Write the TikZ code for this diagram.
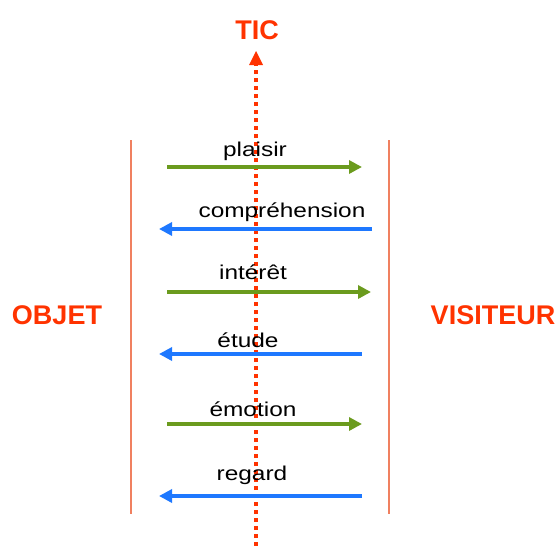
\documentclass[tikz,border=0pt]{standalone}
\usepackage{fontspec}
\setmainfont{Liberation Sans}
\usetikzlibrary{arrows.meta}
\definecolor{ticred}{HTML}{FF3300}
\definecolor{sidered}{HTML}{F08060}
\definecolor{arrgreen}{HTML}{6B9B1E}
\definecolor{arrblue}{HTML}{1E78FF}
\begin{document}
\begin{tikzpicture}[x=1pt,y=-1pt,
  bigtitle/.style={font=\fontsize{27}{31}\selectfont\bfseries, text=ticred, inner sep=0pt},
  lbl/.style={font=\fontsize{20}{24}\selectfont, text=black, inner sep=0pt, anchor=base},
  sideline/.style={draw=sidered, line width=1.3pt},
  greenarrow/.style={draw=arrgreen, line width=4pt, -{Triangle[length=13pt,width=13pt]}},
  bluearrow/.style={draw=arrblue, line width=4pt, -{Triangle[length=13pt,width=13pt]}},
  ticline/.style={draw=ticred, line width=3.5pt, dash pattern=on 4pt off 4pt}
]
\useasboundingbox (0,0) rectangle (558,546);
% titles
\node[bigtitle] (tic) at (257,30) {TIC};
\node[bigtitle] (objet) at (57,315) {OBJET};
\node[bigtitle] (visiteur) at (493,315) {VISITEUR};
% side lines
\coordinate (lt) at (131,140); \coordinate (lb) at (131,514);
\coordinate (rt) at (389,140); \coordinate (rb) at (389,514);
\draw[sideline] (lt) -- (lb);
\draw[sideline] (rt) -- (rb);
% TIC dotted axis
\coordinate (tbot) at (256,546);
\coordinate (ttop) at (256,64);
\coordinate (ttip) at (256,51);
\draw[ticline] (tbot) -- (ttop);
\fill[ticred] (249,65) -- (263,65) -- (ttip) -- cycle;
% arrows
\coordinate (a1s) at (167,167); \coordinate (a1e) at (362,167);
\coordinate (a2s) at (372,229); \coordinate (a2e) at (159,229);
\coordinate (a3s) at (167,292); \coordinate (a3e) at (371,292);
\coordinate (a4s) at (362,354); \coordinate (a4e) at (159,354);
\coordinate (a5s) at (167,424); \coordinate (a5e) at (362,424);
\coordinate (a6s) at (362,496); \coordinate (a6e) at (159,496);
\draw[greenarrow] (a1s) -- (a1e);
\draw[bluearrow] (a2s) -- (a2e);
\draw[greenarrow] (a3s) -- (a3e);
\draw[bluearrow] (a4s) -- (a4e);
\draw[greenarrow] (a5s) -- (a5e);
\draw[bluearrow] (a6s) -- (a6e);
% labels
\node[lbl] (l1) at (255,156) {\scalebox{1.22}[1]{plaisir}};
\node[lbl] (l2) at (282,217) {\scalebox{1.22}[1]{compréhension}};
\node[lbl] (l3) at (253,279) {\scalebox{1.22}[1]{intérêt}};
\node[lbl] (l4) at (248,347) {\scalebox{1.22}[1]{étude}};
\node[lbl] (l5) at (253,416) {\scalebox{1.22}[1]{émotion}};
\node[lbl] (l6) at (252,480) {\scalebox{1.22}[1]{regard}};
\end{tikzpicture}
\end{document}
